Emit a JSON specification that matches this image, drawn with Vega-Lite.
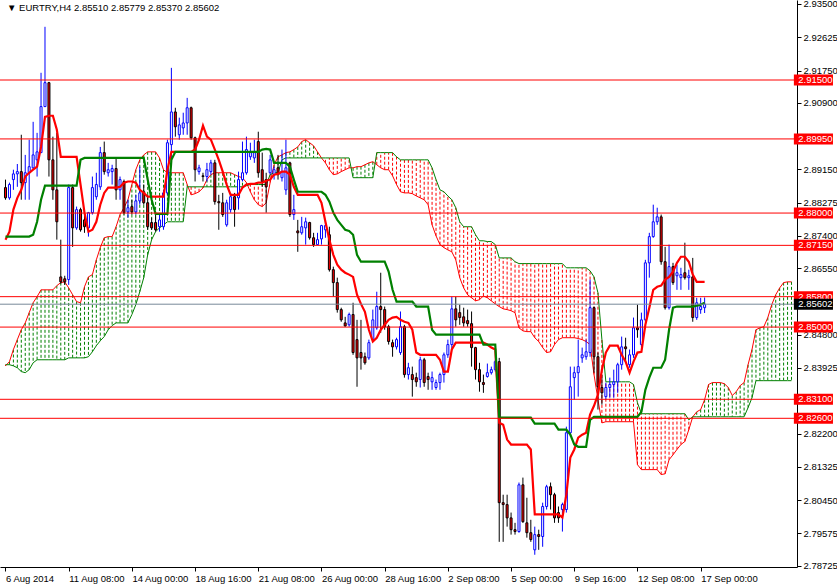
{
"$schema":"https://vega.github.io/schema/vega-lite/v6.json",
"width":797,"height":567,
"autosize":{"type":"none"},
"padding":{"left":0,"top":0,"right":40,"bottom":18},
"background":"white",
"config":{"font":"Liberation Sans","view":{"stroke":null}},
"resolve":{"axis":{"x":"independent","y":"independent"}},
"datasets":{
"levels":[{"v":2.915},{"v":2.8995},{"v":2.88},{"v":2.8715},{"v":2.858},{"v":2.85},{"v":2.831},{"v":2.826}],
"bid":[{"v":2.85602}],
"bars":[
{"i":0,"o":2.8867,"h":2.8888,"l":2.8835,"c":2.8840,"t":2.8730,"k":2.8738,"a":2.8398,"b":2.8401},
{"i":1,"o":2.8840,"h":2.8880,"l":2.8835,"c":2.8875,"t":2.8751,"k":2.8738,"a":2.8409,"b":2.8401},
{"i":2,"o":2.8888,"h":2.8914,"l":2.8861,"c":2.8903,"t":2.8809,"k":2.8738,"a":2.8441,"b":2.8398},
{"i":3,"o":2.8903,"h":2.8929,"l":2.8869,"c":2.8909,"t":2.8840,"k":2.8738,"a":2.8467,"b":2.8393},
{"i":4,"o":2.8909,"h":2.9006,"l":2.8835,"c":2.8880,"t":2.8861,"k":2.8738,"a":2.8493,"b":2.8383},
{"i":5,"o":2.8880,"h":2.8953,"l":2.8835,"c":2.8906,"t":2.8896,"k":2.8738,"a":2.8511,"b":2.8380},
{"i":6,"o":2.8906,"h":2.8993,"l":2.8835,"c":2.8922,"t":2.8906,"k":2.8738,"a":2.8538,"b":2.8388},
{"i":7,"o":2.8919,"h":2.9040,"l":2.8914,"c":2.8953,"t":2.8914,"k":2.8743,"a":2.8564,"b":2.8406},
{"i":8,"o":2.8940,"h":2.9011,"l":2.8896,"c":2.8961,"t":2.8922,"k":2.8777,"a":2.8580,"b":2.8414},
{"i":9,"o":2.8959,"h":2.9169,"l":2.8959,"c":2.9080,"t":2.8974,"k":2.8835,"a":2.8598,"b":2.8414},
{"i":10,"o":2.9080,"h":2.9290,"l":2.9080,"c":2.9143,"t":2.9053,"k":2.8872,"a":2.8598,"b":2.8414},
{"i":11,"o":2.9143,"h":2.9145,"l":2.8896,"c":2.8940,"t":2.9056,"k":2.8872,"a":2.8598,"b":2.8414},
{"i":12,"o":2.8940,"h":2.9001,"l":2.8835,"c":2.8861,"t":2.9056,"k":2.8872,"a":2.8598,"b":2.8414},
{"i":13,"o":2.8861,"h":2.9011,"l":2.8730,"c":2.8777,"t":2.9019,"k":2.8872,"a":2.8609,"b":2.8414},
{"i":14,"o":2.8632,"h":2.8730,"l":2.8614,"c":2.8619,"t":2.8948,"k":2.8872,"a":2.8617,"b":2.8414},
{"i":15,"o":2.8627,"h":2.8635,"l":2.8611,"c":2.8619,"t":2.8948,"k":2.8872,"a":2.8619,"b":2.8414},
{"i":16,"o":2.8625,"h":2.8875,"l":2.8611,"c":2.8867,"t":2.8948,"k":2.8872,"a":2.8603,"b":2.8419},
{"i":17,"o":2.8867,"h":2.8875,"l":2.8711,"c":2.8761,"t":2.8948,"k":2.8872,"a":2.8585,"b":2.8419},
{"i":18,"o":2.8761,"h":2.8817,"l":2.8756,"c":2.8809,"t":2.8948,"k":2.8872,"a":2.8567,"b":2.8419},
{"i":19,"o":2.8809,"h":2.8814,"l":2.8751,"c":2.8756,"t":2.8875,"k":2.8940,"a":2.8564,"b":2.8419},
{"i":20,"o":2.8782,"h":2.8801,"l":2.8748,"c":2.8764,"t":2.8801,"k":2.8945,"a":2.8606,"b":2.8419},
{"i":21,"o":2.8761,"h":2.8803,"l":2.8738,"c":2.8801,"t":2.8751,"k":2.8945,"a":2.8632,"b":2.8422},
{"i":22,"o":2.8801,"h":2.8896,"l":2.8796,"c":2.8867,"t":2.8756,"k":2.8945,"a":2.8638,"b":2.8435},
{"i":23,"o":2.8843,"h":2.8906,"l":2.8835,"c":2.8875,"t":2.8777,"k":2.8945,"a":2.8677,"b":2.8451},
{"i":24,"o":2.8869,"h":2.8974,"l":2.8861,"c":2.8959,"t":2.8822,"k":2.8945,"a":2.8709,"b":2.8464},
{"i":25,"o":2.8959,"h":2.8988,"l":2.8901,"c":2.8909,"t":2.8853,"k":2.8945,"a":2.8735,"b":2.8475},
{"i":26,"o":2.8906,"h":2.8932,"l":2.8896,"c":2.8914,"t":2.8867,"k":2.8945,"a":2.8738,"b":2.8493},
{"i":27,"o":2.8909,"h":2.8927,"l":2.8875,"c":2.8917,"t":2.8867,"k":2.8945,"a":2.8738,"b":2.8504},
{"i":28,"o":2.8917,"h":2.8943,"l":2.8835,"c":2.8861,"t":2.8867,"k":2.8945,"a":2.8764,"b":2.8511},
{"i":29,"o":2.8861,"h":2.8896,"l":2.8835,"c":2.8888,"t":2.8869,"k":2.8945,"a":2.8796,"b":2.8511},
{"i":30,"o":2.8883,"h":2.8888,"l":2.8796,"c":2.8801,"t":2.8880,"k":2.8945,"a":2.8814,"b":2.8511},
{"i":31,"o":2.8803,"h":2.8835,"l":2.8788,"c":2.8814,"t":2.8883,"k":2.8945,"a":2.8835,"b":2.8511},
{"i":32,"o":2.8817,"h":2.8835,"l":2.8796,"c":2.8803,"t":2.8883,"k":2.8945,"a":2.8875,"b":2.8533},
{"i":33,"o":2.8803,"h":2.8848,"l":2.8796,"c":2.8832,"t":2.8880,"k":2.8945,"a":2.8914,"b":2.8559},
{"i":34,"o":2.8832,"h":2.8922,"l":2.8822,"c":2.8853,"t":2.8861,"k":2.8945,"a":2.8940,"b":2.8593},
{"i":35,"o":2.8856,"h":2.8875,"l":2.8822,"c":2.8827,"t":2.8853,"k":2.8945,"a":2.8953,"b":2.8630},
{"i":36,"o":2.8827,"h":2.8848,"l":2.8756,"c":2.8764,"t":2.8843,"k":2.8888,"a":2.8961,"b":2.8690},
{"i":37,"o":2.8775,"h":2.8788,"l":2.8756,"c":2.8761,"t":2.8843,"k":2.8835,"a":2.8961,"b":2.8730},
{"i":38,"o":2.8775,"h":2.8796,"l":2.8751,"c":2.8756,"t":2.8843,"k":2.8798,"a":2.8961,"b":2.8751},
{"i":39,"o":2.8764,"h":2.8796,"l":2.8751,"c":2.8782,"t":2.8843,"k":2.8798,"a":2.8945,"b":2.8761},
{"i":40,"o":2.8764,"h":2.8861,"l":2.8756,"c":2.8853,"t":2.8843,"k":2.8798,"a":2.8914,"b":2.8769},
{"i":41,"o":2.8853,"h":2.8993,"l":2.8848,"c":2.8985,"t":2.8914,"k":2.8798,"a":2.8906,"b":2.8777},
{"i":42,"o":2.8980,"h":2.9182,"l":2.8940,"c":2.9066,"t":2.8961,"k":2.8940,"a":2.8906,"b":2.8777},
{"i":43,"o":2.9066,"h":2.9077,"l":2.9001,"c":2.9027,"t":2.8961,"k":2.8961,"a":2.8906,"b":2.8777},
{"i":44,"o":2.9006,"h":2.9051,"l":2.8993,"c":2.9032,"t":2.8961,"k":2.8961,"a":2.8906,"b":2.8777},
{"i":45,"o":2.9024,"h":2.9064,"l":2.9006,"c":2.9037,"t":2.8961,"k":2.8961,"a":2.8906,"b":2.8777},
{"i":46,"o":2.9037,"h":2.9103,"l":2.9006,"c":2.9077,"t":2.8961,"k":2.8961,"a":2.8875,"b":2.8869},
{"i":47,"o":2.9077,"h":2.9080,"l":2.8993,"c":2.8998,"t":2.8961,"k":2.8961,"a":2.8848,"b":2.8869},
{"i":48,"o":2.8998,"h":2.9001,"l":2.8883,"c":2.8914,"t":2.8967,"k":2.8961,"a":2.8851,"b":2.8869},
{"i":49,"o":2.8909,"h":2.8927,"l":2.8901,"c":2.8919,"t":2.8993,"k":2.8961,"a":2.8856,"b":2.8869},
{"i":50,"o":2.8898,"h":2.8906,"l":2.8883,"c":2.8896,"t":2.9030,"k":2.8961,"a":2.8866,"b":2.8869},
{"i":51,"o":2.8896,"h":2.8932,"l":2.8883,"c":2.8914,"t":2.9001,"k":2.8961,"a":2.8888,"b":2.8869},
{"i":52,"o":2.8909,"h":2.8940,"l":2.8901,"c":2.8932,"t":2.8993,"k":2.8961,"a":2.8901,"b":2.8869},
{"i":53,"o":2.8932,"h":2.8940,"l":2.8822,"c":2.8830,"t":2.8967,"k":2.8961,"a":2.8906,"b":2.8869},
{"i":54,"o":2.8830,"h":2.8848,"l":2.8756,"c":2.8827,"t":2.8940,"k":2.8961,"a":2.8906,"b":2.8869},
{"i":55,"o":2.8827,"h":2.8853,"l":2.8790,"c":2.8796,"t":2.8909,"k":2.8961,"a":2.8906,"b":2.8869},
{"i":56,"o":2.8769,"h":2.8835,"l":2.8764,"c":2.8827,"t":2.8875,"k":2.8961,"a":2.8906,"b":2.8869},
{"i":57,"o":2.8809,"h":2.8853,"l":2.8801,"c":2.8843,"t":2.8848,"k":2.8961,"a":2.8906,"b":2.8869},
{"i":58,"o":2.8843,"h":2.8853,"l":2.8764,"c":2.8809,"t":2.8848,"k":2.8961,"a":2.8901,"b":2.8869},
{"i":59,"o":2.8840,"h":2.8909,"l":2.8809,"c":2.8888,"t":2.8848,"k":2.8961,"a":2.8896,"b":2.8869},
{"i":60,"o":2.8888,"h":2.8988,"l":2.8883,"c":2.8906,"t":2.8867,"k":2.8961,"a":2.8893,"b":2.8869},
{"i":61,"o":2.8906,"h":2.9001,"l":2.8901,"c":2.8967,"t":2.8875,"k":2.8961,"a":2.8880,"b":2.8872},
{"i":62,"o":2.8948,"h":2.8985,"l":2.8940,"c":2.8959,"t":2.8877,"k":2.8961,"a":2.8856,"b":2.8875},
{"i":63,"o":2.8945,"h":2.8993,"l":2.8932,"c":2.8959,"t":2.8877,"k":2.8961,"a":2.8835,"b":2.8875},
{"i":64,"o":2.8988,"h":2.9014,"l":2.8893,"c":2.8906,"t":2.8880,"k":2.8961,"a":2.8822,"b":2.8875},
{"i":65,"o":2.8914,"h":2.8959,"l":2.8869,"c":2.8883,"t":2.8880,"k":2.8967,"a":2.8817,"b":2.8875},
{"i":66,"o":2.8888,"h":2.8906,"l":2.8801,"c":2.8869,"t":2.8885,"k":2.8969,"a":2.8827,"b":2.8875},
{"i":67,"o":2.8906,"h":2.8953,"l":2.8901,"c":2.8940,"t":2.8888,"k":2.8967,"a":2.8880,"b":2.8901},
{"i":68,"o":2.8901,"h":2.8922,"l":2.8888,"c":2.8914,"t":2.8901,"k":2.8932,"a":2.8927,"b":2.8906},
{"i":69,"o":2.8919,"h":2.8953,"l":2.8888,"c":2.8901,"t":2.8903,"k":2.8932,"a":2.8948,"b":2.8906},
{"i":70,"o":2.8893,"h":2.8967,"l":2.8883,"c":2.8909,"t":2.8909,"k":2.8932,"a":2.8953,"b":2.8940},
{"i":71,"o":2.8861,"h":2.8993,"l":2.8848,"c":2.8919,"t":2.8909,"k":2.8932,"a":2.8959,"b":2.8945},
{"i":72,"o":2.8932,"h":2.8935,"l":2.8790,"c":2.8796,"t":2.8901,"k":2.8922,"a":2.8961,"b":2.8945},
{"i":73,"o":2.8796,"h":2.8848,"l":2.8782,"c":2.8809,"t":2.8869,"k":2.8888,"a":2.8967,"b":2.8945},
{"i":74,"o":2.8753,"h":2.8782,"l":2.8698,"c":2.8748,"t":2.8848,"k":2.8856,"a":2.8974,"b":2.8945},
{"i":75,"o":2.8748,"h":2.8790,"l":2.8743,"c":2.8764,"t":2.8848,"k":2.8856,"a":2.8988,"b":2.8945},
{"i":76,"o":2.8761,"h":2.8788,"l":2.8717,"c":2.8777,"t":2.8848,"k":2.8856,"a":2.8993,"b":2.8945},
{"i":77,"o":2.8775,"h":2.8777,"l":2.8730,"c":2.8735,"t":2.8848,"k":2.8856,"a":2.8985,"b":2.8945},
{"i":78,"o":2.8735,"h":2.8748,"l":2.8711,"c":2.8717,"t":2.8848,"k":2.8856,"a":2.8977,"b":2.8945},
{"i":79,"o":2.8717,"h":2.8748,"l":2.8717,"c":2.8730,"t":2.8848,"k":2.8856,"a":2.8961,"b":2.8945},
{"i":80,"o":2.8732,"h":2.8769,"l":2.8717,"c":2.8767,"t":2.8827,"k":2.8856,"a":2.8945,"b":2.8945},
{"i":81,"o":2.8756,"h":2.8782,"l":2.8735,"c":2.8767,"t":2.8777,"k":2.8848,"a":2.8932,"b":2.8945},
{"i":82,"o":2.8743,"h":2.8764,"l":2.8646,"c":2.8651,"t":2.8730,"k":2.8830,"a":2.8914,"b":2.8945},
{"i":83,"o":2.8651,"h":2.8659,"l":2.8580,"c":2.8617,"t":2.8690,"k":2.8801,"a":2.8901,"b":2.8945},
{"i":84,"o":2.8617,"h":2.8630,"l":2.8538,"c":2.8546,"t":2.8664,"k":2.8782,"a":2.8903,"b":2.8945},
{"i":85,"o":2.8546,"h":2.8551,"l":2.8514,"c":2.8519,"t":2.8651,"k":2.8769,"a":2.8909,"b":2.8945},
{"i":86,"o":2.8511,"h":2.8527,"l":2.8501,"c":2.8503,"t":2.8643,"k":2.8756,"a":2.8914,"b":2.8945},
{"i":87,"o":2.8506,"h":2.8538,"l":2.8501,"c":2.8533,"t":2.8638,"k":2.8753,"a":2.8919,"b":2.8945},
{"i":88,"o":2.8533,"h":2.8564,"l":2.8427,"c":2.8433,"t":2.8632,"k":2.8743,"a":2.8919,"b":2.8893},
{"i":89,"o":2.8467,"h":2.8519,"l":2.8343,"c":2.8419,"t":2.8585,"k":2.8690,"a":2.8922,"b":2.8893},
{"i":90,"o":2.8433,"h":2.8519,"l":2.8388,"c":2.8419,"t":2.8561,"k":2.8672,"a":2.8922,"b":2.8893},
{"i":91,"o":2.8422,"h":2.8433,"l":2.8401,"c":2.8406,"t":2.8540,"k":2.8672,"a":2.8927,"b":2.8893},
{"i":92,"o":2.8419,"h":2.8467,"l":2.8414,"c":2.8459,"t":2.8493,"k":2.8672,"a":2.8932,"b":2.8893},
{"i":93,"o":2.8467,"h":2.8546,"l":2.8462,"c":2.8519,"t":2.8462,"k":2.8672,"a":2.8935,"b":2.8893},
{"i":94,"o":2.8498,"h":2.8593,"l":2.8493,"c":2.8554,"t":2.8472,"k":2.8672,"a":2.8927,"b":2.8959},
{"i":95,"o":2.8554,"h":2.8643,"l":2.8485,"c":2.8546,"t":2.8493,"k":2.8672,"a":2.8919,"b":2.8959},
{"i":96,"o":2.8546,"h":2.8554,"l":2.8493,"c":2.8501,"t":2.8506,"k":2.8672,"a":2.8914,"b":2.8959},
{"i":97,"o":2.8501,"h":2.8506,"l":2.8454,"c":2.8462,"t":2.8519,"k":2.8646,"a":2.8914,"b":2.8959},
{"i":98,"o":2.8459,"h":2.8467,"l":2.8422,"c":2.8448,"t":2.8525,"k":2.8598,"a":2.8898,"b":2.8959},
{"i":99,"o":2.8448,"h":2.8472,"l":2.8441,"c":2.8467,"t":2.8527,"k":2.8567,"a":2.8875,"b":2.8948},
{"i":100,"o":2.8433,"h":2.8541,"l":2.8427,"c":2.8501,"t":2.8519,"k":2.8567,"a":2.8856,"b":2.8940},
{"i":101,"o":2.8501,"h":2.8506,"l":2.8367,"c":2.8375,"t":2.8514,"k":2.8567,"a":2.8853,"b":2.8940},
{"i":102,"o":2.8375,"h":2.8406,"l":2.8362,"c":2.8393,"t":2.8511,"k":2.8567,"a":2.8853,"b":2.8940},
{"i":103,"o":2.8375,"h":2.8396,"l":2.8317,"c":2.8362,"t":2.8493,"k":2.8567,"a":2.8851,"b":2.8940},
{"i":104,"o":2.8367,"h":2.8380,"l":2.8343,"c":2.8356,"t":2.8433,"k":2.8554,"a":2.8845,"b":2.8940},
{"i":105,"o":2.8362,"h":2.8422,"l":2.8341,"c":2.8414,"t":2.8427,"k":2.8554,"a":2.8840,"b":2.8940},
{"i":106,"o":2.8414,"h":2.8419,"l":2.8343,"c":2.8354,"t":2.8427,"k":2.8554,"a":2.8835,"b":2.8940},
{"i":107,"o":2.8370,"h":2.8380,"l":2.8335,"c":2.8362,"t":2.8427,"k":2.8554,"a":2.8822,"b":2.8940},
{"i":108,"o":2.8356,"h":2.8383,"l":2.8335,"c":2.8367,"t":2.8427,"k":2.8493,"a":2.8769,"b":2.8919},
{"i":109,"o":2.8341,"h":2.8362,"l":2.8335,"c":2.8354,"t":2.8427,"k":2.8480,"a":2.8740,"b":2.8888},
{"i":110,"o":2.8354,"h":2.8380,"l":2.8335,"c":2.8375,"t":2.8414,"k":2.8480,"a":2.8717,"b":2.8861},
{"i":111,"o":2.8375,"h":2.8433,"l":2.8354,"c":2.8427,"t":2.8383,"k":2.8480,"a":2.8709,"b":2.8856},
{"i":112,"o":2.8427,"h":2.8467,"l":2.8419,"c":2.8454,"t":2.8383,"k":2.8480,"a":2.8703,"b":2.8845},
{"i":113,"o":2.8454,"h":2.8580,"l":2.8441,"c":2.8548,"t":2.8441,"k":2.8480,"a":2.8698,"b":2.8835},
{"i":114,"o":2.8548,"h":2.8580,"l":2.8501,"c":2.8519,"t":2.8459,"k":2.8480,"a":2.8677,"b":2.8814},
{"i":115,"o":2.8538,"h":2.8559,"l":2.8506,"c":2.8525,"t":2.8459,"k":2.8480,"a":2.8630,"b":2.8777},
{"i":116,"o":2.8527,"h":2.8551,"l":2.8501,"c":2.8511,"t":2.8459,"k":2.8480,"a":2.8603,"b":2.8764},
{"i":117,"o":2.8517,"h":2.8546,"l":2.8501,"c":2.8509,"t":2.8459,"k":2.8480,"a":2.8585,"b":2.8764},
{"i":118,"o":2.8509,"h":2.8541,"l":2.8396,"c":2.8446,"t":2.8459,"k":2.8480,"a":2.8577,"b":2.8764},
{"i":119,"o":2.8446,"h":2.8448,"l":2.8362,"c":2.8388,"t":2.8459,"k":2.8480,"a":2.8569,"b":2.8743},
{"i":120,"o":2.8388,"h":2.8406,"l":2.8330,"c":2.8356,"t":2.8459,"k":2.8480,"a":2.8572,"b":2.8727},
{"i":121,"o":2.8354,"h":2.8375,"l":2.8327,"c":2.8349,"t":2.8459,"k":2.8454,"a":2.8582,"b":2.8727},
{"i":122,"o":2.8370,"h":2.8404,"l":2.8367,"c":2.8380,"t":2.8454,"k":2.8454,"a":2.8577,"b":2.8725},
{"i":123,"o":2.8380,"h":2.8396,"l":2.8375,"c":2.8388,"t":2.8446,"k":2.8454,"a":2.8569,"b":2.8725},
{"i":124,"o":2.8388,"h":2.8414,"l":2.8383,"c":2.8409,"t":2.8441,"k":2.8454,"a":2.8561,"b":2.8717},
{"i":125,"o":2.8409,"h":2.8419,"l":2.7935,"c":2.8038,"t":2.8248,"k":2.8262,"a":2.8554,"b":2.8682},
{"i":126,"o":2.8038,"h":2.8059,"l":2.7935,"c":2.8033,"t":2.8243,"k":2.8262,"a":2.8548,"b":2.8682},
{"i":127,"o":2.8033,"h":2.8059,"l":2.7975,"c":2.7998,"t":2.8204,"k":2.8262,"a":2.8546,"b":2.8682},
{"i":128,"o":2.7998,"h":2.8012,"l":2.7954,"c":2.7967,"t":2.8191,"k":2.8262,"a":2.8543,"b":2.8682},
{"i":129,"o":2.7967,"h":2.7985,"l":2.7954,"c":2.7962,"t":2.8191,"k":2.8262,"a":2.8538,"b":2.8672},
{"i":130,"o":2.7962,"h":2.8091,"l":2.7959,"c":2.8085,"t":2.8191,"k":2.8262,"a":2.8498,"b":2.8667},
{"i":131,"o":2.8085,"h":2.8104,"l":2.7985,"c":2.7988,"t":2.8191,"k":2.8262,"a":2.8490,"b":2.8667},
{"i":132,"o":2.7985,"h":2.8051,"l":2.7946,"c":2.7959,"t":2.8191,"k":2.8262,"a":2.8488,"b":2.8667},
{"i":133,"o":2.7959,"h":2.7993,"l":2.7935,"c":2.7941,"t":2.8178,"k":2.8262,"a":2.8488,"b":2.8667},
{"i":134,"o":2.7914,"h":2.7975,"l":2.7901,"c":2.7954,"t":2.8007,"k":2.8246,"a":2.8472,"b":2.8667},
{"i":135,"o":2.7954,"h":2.7967,"l":2.7914,"c":2.7949,"t":2.8007,"k":2.8246,"a":2.8462,"b":2.8667},
{"i":136,"o":2.7949,"h":2.8038,"l":2.7922,"c":2.8028,"t":2.8007,"k":2.8246,"a":2.8446,"b":2.8667},
{"i":137,"o":2.8028,"h":2.8085,"l":2.8020,"c":2.8080,"t":2.8007,"k":2.8246,"a":2.8433,"b":2.8667},
{"i":138,"o":2.8080,"h":2.8091,"l":2.8020,"c":2.8059,"t":2.8007,"k":2.8246,"a":2.8435,"b":2.8667},
{"i":139,"o":2.8059,"h":2.8064,"l":2.7985,"c":2.7998,"t":2.8007,"k":2.8246,"a":2.8454,"b":2.8667},
{"i":140,"o":2.8012,"h":2.8028,"l":2.7985,"c":2.7998,"t":2.8007,"k":2.8230,"a":2.8467,"b":2.8667},
{"i":141,"o":2.8020,"h":2.8038,"l":2.7962,"c":2.8033,"t":2.7999,"k":2.8230,"a":2.8472,"b":2.8667},
{"i":142,"o":2.8020,"h":2.8238,"l":2.8012,"c":2.8222,"t":2.8059,"k":2.8230,"a":2.8472,"b":2.8656},
{"i":143,"o":2.8222,"h":2.8396,"l":2.8212,"c":2.8343,"t":2.8157,"k":2.8217,"a":2.8472,"b":2.8656},
{"i":144,"o":2.8367,"h":2.8396,"l":2.8309,"c":2.8380,"t":2.8178,"k":2.8191,"a":2.8472,"b":2.8656},
{"i":145,"o":2.8380,"h":2.8467,"l":2.8317,"c":2.8396,"t":2.8209,"k":2.8185,"a":2.8470,"b":2.8656},
{"i":146,"o":2.8419,"h":2.8446,"l":2.8406,"c":2.8427,"t":2.8217,"k":2.8185,"a":2.8467,"b":2.8656},
{"i":147,"o":2.8422,"h":2.8467,"l":2.8414,"c":2.8435,"t":2.8222,"k":2.8185,"a":2.8462,"b":2.8656},
{"i":148,"o":2.8433,"h":2.8625,"l":2.8422,"c":2.8551,"t":2.8270,"k":2.8256,"a":2.8454,"b":2.8648},
{"i":149,"o":2.8551,"h":2.8554,"l":2.8380,"c":2.8422,"t":2.8293,"k":2.8264,"a":2.8375,"b":2.8632},
{"i":150,"o":2.8422,"h":2.8433,"l":2.8283,"c":2.8343,"t":2.8322,"k":2.8264,"a":2.8309,"b":2.8590},
{"i":151,"o":2.8341,"h":2.8375,"l":2.8296,"c":2.8327,"t":2.8388,"k":2.8264,"a":2.8248,"b":2.8467},
{"i":152,"o":2.8317,"h":2.8354,"l":2.8309,"c":2.8341,"t":2.8433,"k":2.8264,"a":2.8251,"b":2.8356},
{"i":153,"o":2.8341,"h":2.8367,"l":2.8314,"c":2.8349,"t":2.8451,"k":2.8264,"a":2.8251,"b":2.8356},
{"i":154,"o":2.8349,"h":2.8388,"l":2.8314,"c":2.8356,"t":2.8451,"k":2.8264,"a":2.8251,"b":2.8356},
{"i":155,"o":2.8356,"h":2.8406,"l":2.8327,"c":2.8401,"t":2.8451,"k":2.8264,"a":2.8251,"b":2.8356},
{"i":156,"o":2.8401,"h":2.8475,"l":2.8388,"c":2.8448,"t":2.8427,"k":2.8264,"a":2.8251,"b":2.8356},
{"i":157,"o":2.8448,"h":2.8472,"l":2.8406,"c":2.8443,"t":2.8409,"k":2.8264,"a":2.8251,"b":2.8356},
{"i":158,"o":2.8401,"h":2.8441,"l":2.8393,"c":2.8427,"t":2.8380,"k":2.8264,"a":2.8251,"b":2.8356},
{"i":159,"o":2.8427,"h":2.8525,"l":2.8419,"c":2.8498,"t":2.8409,"k":2.8264,"a":2.8251,"b":2.8349},
{"i":160,"o":2.8498,"h":2.8559,"l":2.8472,"c":2.8493,"t":2.8433,"k":2.8264,"a":2.8138,"b":2.8301},
{"i":161,"o":2.8454,"h":2.8538,"l":2.8448,"c":2.8519,"t":2.8435,"k":2.8277,"a":2.8125,"b":2.8272},
{"i":162,"o":2.8519,"h":2.8677,"l":2.8514,"c":2.8669,"t":2.8506,"k":2.8335,"a":2.8125,"b":2.8272},
{"i":163,"o":2.8669,"h":2.8748,"l":2.8630,"c":2.8738,"t":2.8551,"k":2.8367,"a":2.8125,"b":2.8272},
{"i":164,"o":2.8738,"h":2.8822,"l":2.8735,"c":2.8777,"t":2.8598,"k":2.8393,"a":2.8125,"b":2.8272},
{"i":165,"o":2.8777,"h":2.8814,"l":2.8769,"c":2.8790,"t":2.8606,"k":2.8393,"a":2.8125,"b":2.8272},
{"i":166,"o":2.8790,"h":2.8796,"l":2.8664,"c":2.8672,"t":2.8609,"k":2.8393,"a":2.8112,"b":2.8272},
{"i":167,"o":2.8672,"h":2.8711,"l":2.8546,"c":2.8551,"t":2.8625,"k":2.8414,"a":2.8114,"b":2.8272},
{"i":168,"o":2.8551,"h":2.8717,"l":2.8546,"c":2.8659,"t":2.8632,"k":2.8493,"a":2.8151,"b":2.8272},
{"i":169,"o":2.8659,"h":2.8669,"l":2.8611,"c":2.8617,"t":2.8646,"k":2.8551,"a":2.8164,"b":2.8272},
{"i":170,"o":2.8635,"h":2.8664,"l":2.8598,"c":2.8643,"t":2.8669,"k":2.8554,"a":2.8178,"b":2.8272},
{"i":171,"o":2.8630,"h":2.8656,"l":2.8598,"c":2.8638,"t":2.8685,"k":2.8554,"a":2.8191,"b":2.8272},
{"i":172,"o":2.8643,"h":2.8722,"l":2.8625,"c":2.8630,"t":2.8685,"k":2.8554,"a":2.8199,"b":2.8272},
{"i":173,"o":2.8630,"h":2.8651,"l":2.8598,"c":2.8635,"t":2.8672,"k":2.8554,"a":2.8230,"b":2.8256},
{"i":174,"o":2.8632,"h":2.8682,"l":2.8514,"c":2.8525,"t":2.8638,"k":2.8554,"a":2.8264,"b":2.8264},
{"i":175,"o":2.8525,"h":2.8577,"l":2.8519,"c":2.8564,"t":2.8619,"k":2.8556,"a":2.8277,"b":2.8264},
{"i":176,"o":2.8546,"h":2.8577,"l":2.8535,"c":2.8554,"t":2.8619,"k":2.8559,"a":2.8283,"b":2.8264},
{"i":177,"o":2.8551,"h":2.85779,"l":2.8537,"c":2.85602,"t":2.8619,"k":2.8564,"a":2.8309,"b":2.8264},
{"i":178,"a":2.8349,"b":2.8264},
{"i":179,"a":2.8354,"b":2.8264},
{"i":180,"a":2.8354,"b":2.8264},
{"i":181,"a":2.8354,"b":2.8264},
{"i":182,"a":2.8351,"b":2.8264},
{"i":183,"a":2.8341,"b":2.8264},
{"i":184,"a":2.8320,"b":2.8264},
{"i":185,"a":2.8330,"b":2.8264},
{"i":186,"a":2.8346,"b":2.8264},
{"i":187,"a":2.8354,"b":2.8264},
{"i":188,"a":2.8401,"b":2.8288},
{"i":189,"a":2.8441,"b":2.8314},
{"i":190,"a":2.8493,"b":2.8359},
{"i":191,"a":2.8498,"b":2.8359},
{"i":192,"a":2.8501,"b":2.8359},
{"i":193,"a":2.8525,"b":2.8359},
{"i":194,"a":2.8559,"b":2.8359},
{"i":195,"a":2.8585,"b":2.8359},
{"i":196,"a":2.8603,"b":2.8359},
{"i":197,"a":2.8617,"b":2.8359},
{"i":198,"a":2.8619,"b":2.8359},
{"i":199,"a":2.8619,"b":2.8359}
]},
"layer":[
{"data":{"name":"bars"},
 "mark":{"type":"rule","strokeDash":[3,2],"strokeWidth":1},
 "encoding":{
  "x":{"field":"i","type":"quantitative","scale":{"domain":[-0.125,199.125],"nice":false,"zero":false},
   "axis":{"orient":"bottom","title":null,"grid":false,"values":[0,16,32,48,64,80,96,112,128,144,160,176],
    "labelExpr":"['6 Aug 2014','11 Aug 08:00','14 Aug 00:00','18 Aug 16:00','21 Aug 08:00','26 Aug 00:00','28 Aug 16:00','2 Sep 08:00','5 Sep 00:00','9 Sep 16:00','12 Sep 08:00','17 Sep 00:00'][round(datum.value/16)]",
    "labelAlign":"left","labelBaseline":"top","labelPadding":2,"labelDx":0,"tickSize":4,"tickColor":"black","domainColor":"black","labelColor":"black","labelFont":"Liberation Sans","labelFontSize":9.5,"labelOverlap":false,"labelBound":false,"labelFlush":false}},
  "y":{"field":"a","type":"quantitative","scale":{"domain":[2.78688,2.93605],"nice":false,"zero":false},
   "axis":{"orient":"right","title":null,"grid":false,"values":[2.78725,2.79575,2.8045,2.81325,2.822,2.83925,2.848,2.8655,2.874,2.88275,2.8915,2.909,2.9175,2.92625,2.935],
    "format":".5f","tickSize":4,"tickColor":"black","domainColor":"black","labelColor":"black","labelPadding":2,"labelFont":"Liberation Sans","labelFontSize":9.5,"labelOverlap":false,"labelBound":false,"labelFlush":false}},
  "y2":{"field":"b"},
  "color":{"condition":{"test":"datum.a >= datum.b","value":"#008000"},"value":"#ff0000"}}},
{"data":{"name":"bars"},
 "mark":{"type":"line","color":"#ff0000","strokeWidth":1},
 "encoding":{"x":{"field":"i","type":"quantitative","scale":{"domain":[-0.125,199.125],"nice":false,"zero":false},"axis":null},
  "y":{"field":"a","type":"quantitative","scale":{"domain":[2.78688,2.93605],"nice":false,"zero":false},"axis":null}}},
{"data":{"name":"bars"},
 "mark":{"type":"line","color":"#008000","strokeWidth":1},
 "encoding":{"x":{"field":"i","type":"quantitative","scale":{"domain":[-0.125,199.125],"nice":false,"zero":false},"axis":null},
  "y":{"field":"b","type":"quantitative","scale":{"domain":[2.78688,2.93605],"nice":false,"zero":false},"axis":null}}},
{"data":{"name":"bars"},
 "transform":[{"filter":"isValid(datum.o)"}],
 "mark":{"type":"rule","strokeWidth":1},
 "encoding":{"x":{"field":"i","type":"quantitative","scale":{"domain":[-0.125,199.125],"nice":false,"zero":false},"axis":null},
  "y":{"field":"l","type":"quantitative","scale":{"domain":[2.78688,2.93605],"nice":false,"zero":false},"axis":null},
  "y2":{"field":"h"},
  "color":{"condition":{"test":"datum.c >= datum.o","value":"#0000ff"},"value":"#000000"}}},
{"data":{"name":"bars"},
 "transform":[{"filter":"isValid(datum.o)"}],
 "mark":{"type":"bar","width":2,"strokeWidth":1,"fillOpacity":1},
 "encoding":{"x":{"field":"i","type":"quantitative","scale":{"domain":[-0.125,199.125],"nice":false,"zero":false},"axis":null},
  "y":{"field":"o","type":"quantitative","scale":{"domain":[2.78688,2.93605],"nice":false,"zero":false},"axis":null},
  "y2":{"field":"c"},
  "fill":{"condition":{"test":"datum.c >= datum.o","value":"#ffffff"},"value":"#ff0000"},
  "stroke":{"condition":{"test":"datum.c >= datum.o","value":"#0000ff"},"value":"#000000"}}},
{"data":{"name":"bars"},
 "mark":{"type":"line","color":"#ff0000","strokeWidth":2.2},
 "encoding":{"x":{"field":"i","type":"quantitative","scale":{"domain":[-0.125,199.125],"nice":false,"zero":false},"axis":null},
  "y":{"field":"t","type":"quantitative","scale":{"domain":[2.78688,2.93605],"nice":false,"zero":false},"axis":null}}},
{"data":{"name":"bars"},
 "mark":{"type":"line","color":"#008000","strokeWidth":2.2},
 "encoding":{"x":{"field":"i","type":"quantitative","scale":{"domain":[-0.125,199.125],"nice":false,"zero":false},"axis":null},
  "y":{"field":"k","type":"quantitative","scale":{"domain":[2.78688,2.93605],"nice":false,"zero":false},"axis":null}}},
{"data":{"name":"levels"},
 "mark":{"type":"rule","color":"#ff0000","strokeWidth":1},
 "encoding":{"y":{"field":"v","type":"quantitative","scale":{"domain":[2.78688,2.93605],"nice":false,"zero":false},"axis":null}}},
{"data":{"name":"bid"},
 "mark":{"type":"rule","color":"#778899","strokeWidth":1},
 "encoding":{"y":{"field":"v","type":"quantitative","scale":{"domain":[2.78688,2.93605],"nice":false,"zero":false},"axis":null}}},
{"data":{"name":"levels"},
 "mark":{"type":"rule","color":"#ff0000","strokeWidth":11,"strokeCap":"butt"},
 "encoding":{"x":{"datum":199.6,"type":"quantitative","scale":{"domain":[-0.125,199.125],"nice":false,"zero":false},"axis":null},
  "x2":{"datum":209.5},
  "y":{"field":"v","type":"quantitative","scale":{"domain":[2.78688,2.93605],"nice":false,"zero":false},"axis":null}}},
{"data":{"name":"levels"},
 "mark":{"type":"text","color":"#ffffff","align":"left","baseline":"middle","font":"Liberation Sans","fontSize":9.5},
 "encoding":{"x":{"datum":200.7,"type":"quantitative","scale":{"domain":[-0.125,199.125],"nice":false,"zero":false},"axis":null},
  "y":{"field":"v","type":"quantitative","scale":{"domain":[2.78688,2.93605],"nice":false,"zero":false},"axis":null},
  "text":{"field":"v","type":"quantitative","format":".5f"}}},
{"data":{"name":"bid"},
 "mark":{"type":"rule","color":"#000000","strokeWidth":11,"strokeCap":"butt"},
 "encoding":{"x":{"datum":199.6,"type":"quantitative","scale":{"domain":[-0.125,199.125],"nice":false,"zero":false},"axis":null},
  "x2":{"datum":209.5},
  "y":{"field":"v","type":"quantitative","scale":{"domain":[2.78688,2.93605],"nice":false,"zero":false},"axis":null}}},
{"data":{"name":"bid"},
 "mark":{"type":"text","color":"#ffffff","align":"left","baseline":"middle","font":"Liberation Sans","fontSize":9.5},
 "encoding":{"x":{"datum":200.7,"type":"quantitative","scale":{"domain":[-0.125,199.125],"nice":false,"zero":false},"axis":null},
  "y":{"field":"v","type":"quantitative","scale":{"domain":[2.78688,2.93605],"nice":false,"zero":false},"axis":null},
  "text":{"field":"v","type":"quantitative","format":".5f"}}},
{"data":{"values":[{"label":"▼ EURTRY,H4  2.85510 2.85779 2.85370 2.85602"}]},
 "mark":{"type":"text","color":"#000000","align":"left","baseline":"middle","font":"Liberation Sans","fontSize":9.5},
 "encoding":{"x":{"datum":0.4,"type":"quantitative","scale":{"domain":[-0.125,199.125],"nice":false,"zero":false},"axis":null},
  "y":{"datum":2.9339,"type":"quantitative","scale":{"domain":[2.78688,2.93605],"nice":false,"zero":false},"axis":null},
  "text":{"field":"label"}}}
]
}
